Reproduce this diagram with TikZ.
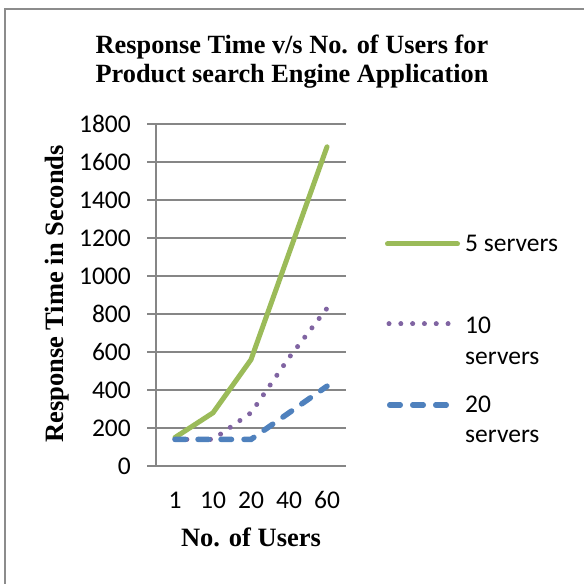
\documentclass[tikz,border=0pt]{standalone}
\usepackage{fontspec}
\setmainfont{Liberation Serif}
\newfontfamily\carl{Carlito}
\definecolor{sgreen}{HTML}{9BBB59}
\definecolor{spurple}{HTML}{8064A2}
\definecolor{sblue}{HTML}{4F81BD}
\definecolor{gridc}{HTML}{868686}
\definecolor{framec}{HTML}{8C8C8C}
\tikzset{
  titletext/.style={font=\fontsize{26.3bp}{29bp}\selectfont\bfseries, inner sep=0pt, anchor=base},
  axtext/.style={font=\fontsize{26.5bp}{30bp}\selectfont\bfseries, inner sep=0pt, anchor=base},
  ticktext/.style={font=\carl\fontsize{25.5bp}{30bp}\selectfont, inner sep=0pt},
  legtext/.style={font=\carl\fontsize{25.5bp}{30bp}\selectfont, inner sep=0pt, anchor=base west},
  gridline/.style={draw=gridc, line width=1.5bp},
  s5/.style={draw=sgreen, line width=5bp, line cap=round, line join=round},
  s10/.style={draw=spurple, line width=5bp, line cap=round, dash pattern=on 0.01bp off 11.8bp},
  s20/.style={draw=sblue, line width=5.5bp, line cap=round, dash pattern=on 10.5bp off 12.5bp},
}
\begin{document}
\begin{tikzpicture}[x=1bp,y=1bp]
\useasboundingbox (0,0) rectangle (584,584);
\clip (0,0) rectangle (584,584);
\fill[white] (0,0) rectangle (584,584);
\draw[framec, line width=2bp] (4.5,575) rectangle (620,-40);
% title
\node[titletext] (t1) at (292,530) {Response Time v/s No. of Users for};
\node[titletext] (t2) at (292,501) {Product search Engine Application};
% plot area
\begin{scope}[shift={(156bp,118bp)}, x=1bp, y=0.19bp]
  \foreach \v in {200,400,...,1800} {
    \draw[gridline] (-9,\v) -- (190,\v);
  }
  \draw[gridline] (-9,0) -- (190,0);
  \draw[gridline] (0,0) -- (0,1800);
  \foreach \v in {0,200,...,1800} {
    \node[ticktext, anchor=east] (y\v) at (-25,\v) {\v};
  }
  % series
  \draw[s5] (19,150) coordinate (a1) -- (57,280) coordinate (a2) -- (95,560) coordinate (a3) -- (133,1120) coordinate (a4) -- (171,1680) coordinate (a5);
  \draw[s10] (19,140) coordinate (b1) -- (57,140) coordinate (b2) -- (95,280) coordinate (b3) -- (133,570) coordinate (b4) -- (171,830) coordinate (b5);
  \draw[s20] (19,140) coordinate (c1) -- (57,140) coordinate (c2) -- (95,140) coordinate (c3) -- (133,280) coordinate (c4) -- (171,420) coordinate (c5);
\end{scope}
% x tick labels
\node[ticktext] (x1) at (175,84) {1};
\node[ticktext] (x2) at (213,84) {10};
\node[ticktext] (x3) at (251,84) {20};
\node[ticktext] (x4) at (289,84) {40};
\node[ticktext] (x5) at (327,84) {60};
% axis titles
\node[axtext] (xl) at (251,37) {No. of Users};
\node[axtext, rotate=90] (yl) at (63,290) {Response Time in Seconds};
% legend
\draw[s5] (387.5,340) coordinate (l1a) -- (457.5,340) coordinate (l1b);
\draw[s10] (389,260) coordinate (l2a) -- (448.1,260) coordinate (l2b);
\draw[s20] (389.75,179) coordinate (l3a) -- (446.25,179) coordinate (l3b);
\node[legtext] (lt1) at (465,332) {5 servers};
\node[legtext] (lt2) at (465,250) {10};
\node[legtext] (lt2b) at (465,219) {servers};
\node[legtext] (lt3) at (465,171) {20};
\node[legtext] (lt3b) at (465,141) {servers};
\end{tikzpicture}
\end{document}
